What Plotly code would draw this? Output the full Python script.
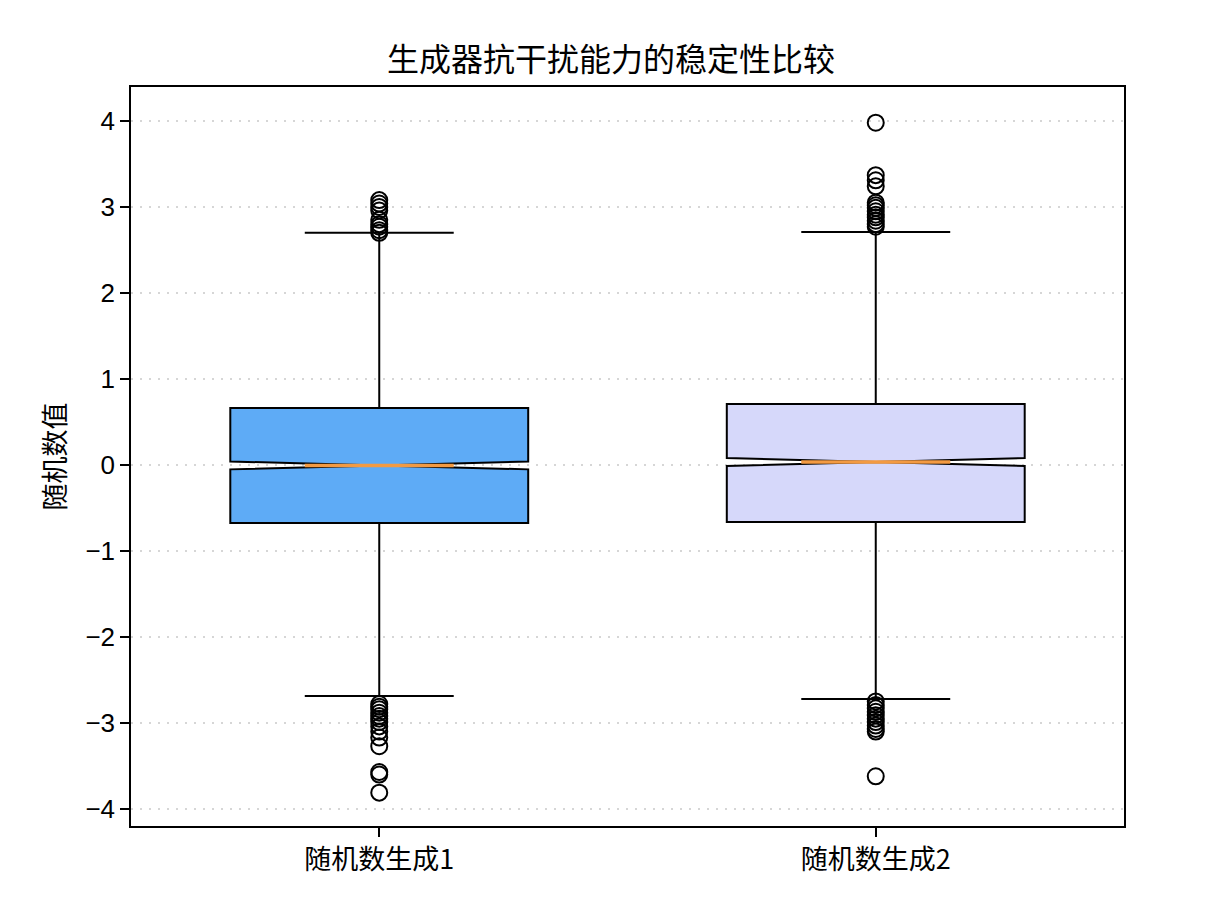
import plotly.graph_objects as go

categories = ["随机数生成1", "随机数生成2"]
positions = [1, 2]
q1 = [-0.674, -0.663]
median = [-0.005, 0.035]
q3 = [0.663, 0.709]
lowerfence = [-2.686, -2.72]
upperfence = [2.70, 2.71]
notchspan = [0.046, 0.046]
fill_colors = ["#5eabf6", "#d6d8fa"]

outliers_1 = [3.08, 3.04, 3.00, 2.96, 2.85, 2.80, 2.77, 2.73, 2.70,
              -2.78, -2.81, -2.84, -2.88, -2.92, -2.95, -2.99, -3.04, -3.10,
              -3.17, -3.27, -3.57, -3.60, -3.81]
outliers_2 = [3.98, 3.37, 3.31, 3.24, 3.05, 3.02, 2.99, 2.95, 2.91, 2.88, 2.84, 2.80, 2.77,
              -2.75, -2.79, -2.83, -2.87, -2.91, -2.95, -2.99, -3.03, -3.07, -3.10, -3.62]
outliers = [outliers_1, outliers_2]

y_ticks = [-4, -3, -2, -1, 0, 1, 2, 3, 4]
y_tick_text = ["−4", "−3", "−2", "−1", "0", "1", "2", "3", "4"]

BOX_W = 0.6
FONT = "Liberation Sans, Arial, Noto Sans CJK SC, sans-serif"
CJK = "Noto Sans CJK SC, sans-serif"

fig = go.Figure()
for i in range(len(categories)):
    fig.add_trace(go.Box(
        x=[positions[i]], q1=[q1[i]], median=[median[i]], q3=[q3[i]],
        lowerfence=[lowerfence[i]], upperfence=[upperfence[i]],
        notchspan=[notchspan[i]], notched=True, notchwidth=0.5,
        width=BOX_W, whiskerwidth=0.5,
        fillcolor=fill_colors[i], line=dict(color="black", width=2),
        boxpoints=False, showlegend=False, hoverinfo="skip",
    ))

for i in range(len(categories)):
    half = BOX_W * 0.5 * 0.5
    fig.add_trace(go.Scatter(
        x=[positions[i] - half, positions[i] + half], y=[median[i], median[i]],
        mode="lines", line=dict(color="#f39a42", width=3.5),
        showlegend=False, hoverinfo="skip",
    ))
    fig.add_trace(go.Scatter(
        x=[positions[i]] * len(outliers[i]), y=outliers[i], mode="markers",
        marker=dict(symbol="circle-open", size=16, color="black",
                    line=dict(color="black", width=2)),
        showlegend=False, hoverinfo="skip",
    ))

fig.update_layout(
    width=1206, height=906,
    margin=dict(l=123, r=90, t=79, b=88),
    paper_bgcolor="white", plot_bgcolor="white",
    font=dict(family=FONT, size=26, color="black"),
    title=dict(text="生成器抗干扰能力的稳定性比较", x=0.5, xanchor="center",
               y=1 - 52 / 906, yanchor="middle",
               font=dict(family=CJK, size=32, color="black")),
    xaxis=dict(range=[0.5, 2.5], tickmode="array", tickvals=positions, ticktext=categories,
               showgrid=False, zeroline=False, showline=True, mirror=True,
               linecolor="black", linewidth=1.5, ticks="outside", ticklen=9,
               tickwidth=1.5, tickcolor="black",
               tickfont=dict(family=CJK, size=27)),
    yaxis=dict(range=[-4.198, 4.395], tickmode="array", tickvals=y_ticks, ticktext=y_tick_text,
               showgrid=True, gridcolor="#d6d6d6", griddash="2px,7px", gridwidth=2,
               zeroline=False, showline=True, mirror=True,
               linecolor="black", linewidth=1.5, ticks="outside", ticklen=9,
               tickwidth=1.5, tickcolor="black",
               title=dict(text="随机数值", standoff=12,
                          font=dict(family=CJK, size=27))),
)

fig.write_html("out.html")
